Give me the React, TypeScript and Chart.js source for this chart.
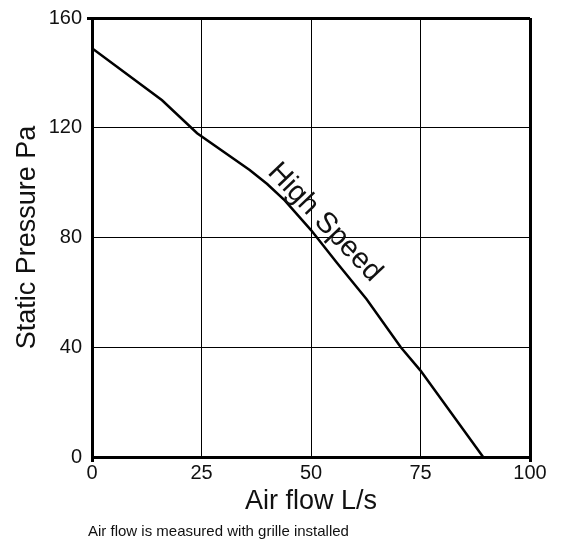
import React, { useEffect, useRef } from "react";
import { Chart, registerables } from "chart.js";

Chart.register(...registerables);

const airFlow = [0, 16, 24, 36, 40, 44, 50, 56, 62.7, 70.5, 75, 89.3];
const staticPressure = [149, 130, 118, 104.6, 99.5, 93.5, 82.7, 70.6, 57.5, 40, 31.5, 0];
const xTicks = [0, 25, 50, 75, 100];
const yTicks = [0, 40, 80, 120, 160];
const curveLabel = "High Speed";
const curveLabelAt = { x: 39.9, y: 103.5 };
const xTitle = "Air flow L/s";
const yTitle = "Static Pressure Pa";
const footnote = "Air flow is measured with grille installed";

const FONT = "'Liberation Sans', Arial, Helvetica, sans-serif";
const INK = "#111";

const labelPlugin = {
  id: "curveLabel",
  afterDatasetsDraw(chart: any) {
    const { ctx, scales } = chart;
    const px = scales.x.getPixelForValue(curveLabelAt.x);
    const py = scales.y.getPixelForValue(curveLabelAt.y);
    ctx.save();
    ctx.translate(px, py);
    ctx.rotate((46.5 * Math.PI) / 180);
    ctx.font = `29px ${FONT}`;
    ctx.fillStyle = INK;
    ctx.textAlign = "left";
    ctx.textBaseline = "alphabetic";
    ctx.fillText(curveLabel, 0, 0);
    ctx.restore();
  },
};

export default function App() {
  const ref = useRef<HTMLCanvasElement>(null);
  useEffect(() => {
    if (!ref.current) return;
    const xMin = xTicks[0];
    const xMax = xTicks[xTicks.length - 1];
    const yMin = yTicks[0];
    const yMax = yTicks[yTicks.length - 1];
    const chart = new Chart(ref.current, {
      type: "line",
      data: {
        datasets: [
          {
            label: curveLabel,
            data: airFlow.map((x, i) => ({ x, y: staticPressure[i] })),
            borderColor: "#000",
            borderWidth: 2.5,
            pointRadius: 0,
            tension: 0,
            fill: false,
          },
        ],
      },
      options: {
        responsive: false,
        animation: false,
        layout: { padding: { top: 18, right: 33, bottom: 0, left: 0 } },
        plugins: { legend: { display: false }, tooltip: { enabled: false } },
        scales: {
          x: {
            type: "linear",
            min: xMin,
            max: xMax,
            afterBuildTicks: (s: any) => {
              s.ticks = xTicks.map((v) => ({ value: v }));
            },
            afterFit: (s: any) => {
              s.height = 87;
            },
            ticks: {
              font: { size: 20, family: FONT },
              color: INK,
              padding: -1,
              maxRotation: 0,
            },
            grid: {
              color: "#000",
              lineWidth: (c: any) => (c.tick && (c.tick.value === xMin || c.tick.value === xMax) ? 3 : 1),
              tickLength: 5,
              tickColor: (c: any) =>
                c.tick && (c.tick.value === xMin || c.tick.value === xMax) ? "#000" : "rgba(0,0,0,0)",
              tickWidth: (c: any) => (c.tick && (c.tick.value === xMin || c.tick.value === xMax) ? 3 : 1),
            },
            border: { display: true, color: "#000", width: 3 },
            title: {
              display: true,
              text: xTitle,
              color: INK,
              font: { size: 27, family: FONT },
              padding: { top: 0, bottom: 26 },
            },
          },
          y: {
            type: "linear",
            min: yMin,
            max: yMax,
            afterBuildTicks: (s: any) => {
              s.ticks = yTicks.map((v) => ({ value: v }));
            },
            afterFit: (s: any) => {
              s.width = 92;
            },
            ticks: {
              font: { size: 20, family: FONT },
              color: INK,
              padding: 5,
            },
            grid: {
              color: "#000",
              lineWidth: (c: any) => (c.tick && (c.tick.value === yMin || c.tick.value === yMax) ? 3 : 1),
              tickLength: 5,
              tickColor: (c: any) => (c.tick && c.tick.value === yMax ? "#000" : "rgba(0,0,0,0)"),
              tickWidth: (c: any) => (c.tick && c.tick.value === yMax ? 3 : 1),
            },
            border: { display: true, color: "#000", width: 3 },
            title: {
              display: true,
              text: yTitle,
              color: INK,
              font: { size: 27, family: FONT },
              padding: { top: 11, bottom: 0 },
            },
          },
        },
      },
      plugins: [labelPlugin],
    });
    return () => chart.destroy();
  }, []);

  return (
    <div style={{ position: "absolute", left: 0, top: 0, width: 563, height: 544 }}>
      <canvas ref={ref} width={563} height={544} style={{ display: "block" }} />
      <div
        style={{
          position: "absolute",
          left: 88,
          top: 522,
          fontFamily: FONT,
          fontSize: 15,
          lineHeight: "18px",
          color: INK,
          whiteSpace: "nowrap",
        }}
      >
        {footnote}
      </div>
    </div>
  );
}
